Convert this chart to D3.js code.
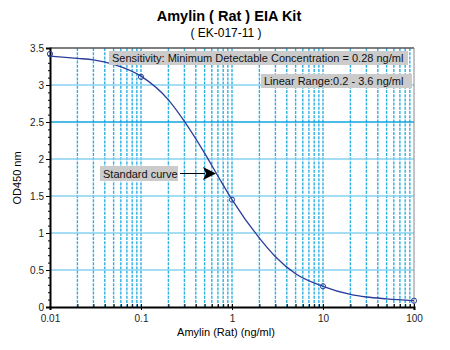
<!DOCTYPE html>
<html>
<head>
<meta charset="utf-8">
<script src="https://cdn.jsdelivr.net/npm/d3@7"></script>
<style>
  body { margin: 0; background: #fff; }
  text { font-family: "Liberation Sans", Arial, sans-serif; }
</style>
</head>
<body>
<div id="container"></div>
<script>
/* DATA */
const standardConc = [0.01, 0.1, 1, 10, 100];
const standardOD = [3.42, 3.11, 1.45, 0.28, 0.085];
// fitted curve
const curveConc = [0.01, 0.02, 0.03, 0.05, 0.1, 0.2, 0.3, 0.5, 0.7, 1, 2, 3, 5, 10, 20, 30, 50, 100];
const curveOD = [3.39, 3.36, 3.34, 3.28, 3.12, 2.80, 2.51, 2.08, 1.77, 1.45, 0.93, 0.68, 0.45, 0.28, 0.17, 0.135, 0.11, 0.085];
const xTickValues = [0.01, 0.1, 1, 10, 100];
const yTickValues = [0, 0.5, 1, 1.5, 2, 2.5, 3, 3.5];

/* CONSTANTS */
const width = 450, height = 350;
const plotLeft = 50, plotRight = 414, plotTop = 48, plotBottom = 307;

const svg = d3.select("#container").append("svg")
  .attr("width", width).attr("height", height);

const x = d3.scaleLog().domain([0.01, 100]).range([plotLeft, plotRight]);
const y = d3.scaleLinear().domain([0, 3.5]).range([plotBottom, plotTop]);

// minor x positions 1..9 per decade
const minorX = [];
for (let e = -2; e < 2; e++) for (let m = 1; m < 10; m++) minorX.push(m * Math.pow(10, e));
minorX.push(100);

/* GRID */
svg.append("g").selectAll("line")
  .data(minorX.filter(d => d > 0.01 && d < 100))
  .join("line")
  .attr("x1", d => x(d)).attr("x2", d => x(d))
  .attr("y1", plotTop).attr("y2", plotBottom)
  .attr("stroke", "#2cb0e4").attr("stroke-width", 1.4)
  .attr("stroke-dasharray", "3,1.2");

svg.append("g").selectAll("line")
  .data(yTickValues.filter(d => d > 0 && d < 3.5))
  .join("line")
  .attr("x1", plotLeft).attr("x2", plotRight)
  .attr("y1", d => y(d)).attr("y2", d => y(d))
  .attr("stroke", d => d === 2.5 ? "#12a4dc" : "#86d2f0")
  .attr("stroke-width", d => d === 2.5 ? 1.5 : 1.6);

/* FRAME */
svg.append("line").attr("x1", plotLeft).attr("x2", plotRight).attr("y1", plotTop).attr("y2", plotTop)
  .attr("stroke", "#555").attr("stroke-width", 1.5);
svg.append("line").attr("x1", plotRight).attr("x2", plotRight).attr("y1", plotTop).attr("y2", plotBottom)
  .attr("stroke", "#888").attr("stroke-width", 1);

/* AXES */
const yAxis = svg.append("g").attr("transform", `translate(${plotLeft},0)`)
  .call(d3.axisLeft(y).tickValues(yTickValues).tickSize(4).tickPadding(2).tickFormat(d3.format("")));
yAxis.select(".domain").attr("stroke-width", 2);
yAxis.selectAll("text").attr("font-size", 10).attr("fill", "#222");
svg.append("g").attr("transform", `translate(${plotLeft},0)`)
  .call(d3.axisLeft(y).tickValues(d3.range(0, 3.51, 0.1)).tickSize(2).tickFormat(""))
  .call(g => g.select(".domain").remove());

const xAxis = svg.append("g").attr("transform", `translate(0,${plotBottom})`)
  .call(d3.axisBottom(x).tickValues(xTickValues).tickSize(3).tickPadding(5).tickFormat(d3.format("")));
xAxis.select(".domain").attr("stroke-width", 2);
xAxis.selectAll("text").attr("font-size", 10).attr("fill", "#222");
svg.append("g").attr("transform", `translate(0,${plotBottom})`)
  .call(d3.axisTop(x).tickValues(minorX).tickSize(3).tickFormat(""))
  .call(g => g.select(".domain").remove());

/* CURVE */
const curvePts = curveConc.map((c, i) => [c, curveOD[i]]);
svg.append("path")
  .datum(curvePts)
  .attr("fill", "none")
  .attr("stroke", "#2a3d9a")
  .attr("stroke-width", 1.3)
  .attr("d", d3.line().x(d => x(d[0])).y(d => y(d[1])).curve(d3.curveMonotoneX));

svg.append("g").selectAll("circle")
  .data(standardConc)
  .join("circle")
  .attr("cx", d => x(d))
  .attr("cy", (d, i) => y(standardOD[i]))
  .attr("r", 2.6)
  .attr("fill", "none")
  .attr("stroke", "#2a3d9a")
  .attr("stroke-width", 1);

/* LABELS */
svg.append("text").attr("x", 229).attr("y", 21).attr("text-anchor", "middle")
  .attr("font-size", 14.5).attr("font-weight", "bold").text("Amylin ( Rat ) EIA Kit");
svg.append("text").attr("x", 226).attr("y", 37).attr("text-anchor", "middle")
  .attr("font-size", 12).text("( EK-017-11 )");
svg.append("text").attr("x", 226).attr("y", 336).attr("text-anchor", "middle")
  .attr("font-size", 11).text("Amylin (Rat) (ng/ml)");
svg.append("text").attr("transform", "translate(21,178) rotate(-90)").attr("text-anchor", "middle")
  .attr("font-size", 11).text("OD450 nm");

function boxLabel(x0, x1, y0, y1, txt) {
  svg.append("rect").attr("x", x0).attr("y", y0).attr("width", x1 - x0).attr("height", y1 - y0)
    .attr("fill", "#cbcbcb");
  svg.append("text").attr("x", x0 + 3).attr("y", y1 - 3.5).attr("font-size", 11)
    .attr("fill", "#111").text(txt);
}
boxLabel(109, 408, 51, 65, "Sensitivity: Minimum Detectable Concentration = 0.28 ng/ml");
boxLabel(261, 412, 74, 88, "Linear Range:0.2 - 3.6 ng/ml");
boxLabel(100, 178, 166, 181, "Standard curve");

// arrow
svg.append("line").attr("x1", 180).attr("x2", 205).attr("y1", 173.5).attr("y2", 173.5)
  .attr("stroke", "#000").attr("stroke-width", 1);
svg.append("path").attr("d", "M203,167 L216,173.5 L203,180 L206,173.5 Z").attr("fill", "#000");
</script>
</body>
</html>
